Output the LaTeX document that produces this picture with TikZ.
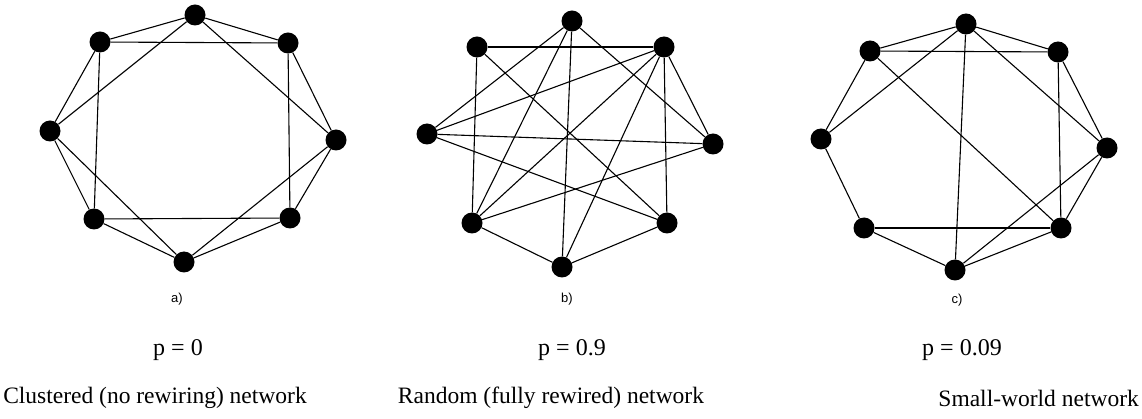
\documentclass[tikz,border=0pt]{standalone}
\usepackage{fontspec}
\setmainfont{Liberation Serif}
\newfontfamily\lblfont{Liberation Sans}
\begin{document}
\begin{tikzpicture}[x=1pt,y=-1pt,
  vtx/.style={circle,fill=black,draw=none,minimum size=21pt,inner sep=0pt},
  edge/.style={draw=black,line width=1.1pt},
  sublbl/.style={font=\lblfont\fontsize{13}{15}\selectfont,inner sep=0pt},
  ptext/.style={font=\fontsize{24}{28}\selectfont,inner sep=0pt},
  captext/.style={font=\fontsize{23.5}{28}\selectfont,inner sep=0pt}]
\fill[white] (0,0) rectangle (1142,419);
\useasboundingbox (0,0) rectangle (1142,419);
% graph a
\node[vtx] (aT)  at (195,15) {};
\node[vtx] (aUL) at (100,42) {};
\node[vtx] (aUR) at (288,43) {};
\node[vtx] (aL)  at (50,131) {};
\node[vtx] (aR)  at (336,140) {};
\node[vtx] (aLL) at (94,219) {};
\node[vtx] (aLR) at (290,218) {};
\node[vtx] (aB)  at (184,262) {};
\foreach \u/\v in {aT/aUL,aT/aUR,aUL/aL,aUR/aR,aL/aLL,aR/aLR,aLL/aB,aLR/aB,
  aUL/aUR,aUL/aLL,aUR/aLR,aLL/aLR,aT/aL,aT/aR,aL/aB,aR/aB}
  \draw[edge] (\u) -- (\v);
% graph b
\node[vtx] (bT)  at (572,21) {};
\node[vtx] (bUL) at (477,47) {};
\node[vtx] (bUR) at (664,47) {};
\node[vtx] (bL)  at (427,134) {};
\node[vtx] (bR)  at (713,144) {};
\node[vtx] (bLL) at (472,223) {};
\node[vtx] (bLR) at (667,223) {};
\node[vtx] (bB)  at (562,267) {};
\foreach \u/\v in {bUL/bUR,bUL/bLL,bUL/bLR,bT/bR,bT/bL,bT/bLL,bT/bB,
  bUR/bL,bUR/bLL,bUR/bB,bUR/bR,bUR/bLR,bL/bR,bL/bLR,bLL/bR,bLL/bB,bLR/bB}
  \draw[edge] (\u) -- (\v);
% graph c
\node[vtx] (cT)  at (966,24) {};
\node[vtx] (cUL) at (870,51) {};
\node[vtx] (cUR) at (1058,52) {};
\node[vtx] (cL)  at (821,139) {};
\node[vtx] (cR)  at (1107,148) {};
\node[vtx] (cLL) at (864,228) {};
\node[vtx] (cLR) at (1061,228) {};
\node[vtx] (cB)  at (955,270) {};
\foreach \u/\v in {cT/cUL,cT/cUR,cUL/cL,cUR/cR,cL/cLL,cR/cLR,cLL/cB,cLR/cB,
  cUL/cUR,cUR/cLR,cLL/cLR,cT/cL,cT/cR,cT/cB,cUL/cLR,cR/cB}
  \draw[edge] (\u) -- (\v);
% labels
\node[sublbl] (la) at (177,299) {a)};
\node[sublbl] (lb) at (567,299) {b)};
\node[sublbl] (lc) at (957,300) {c)};
\node[ptext] (pa) at (178,350) {p = 0};
\node[ptext] (pb) at (572,350) {p = 0.9};
\node[ptext] (pc) at (962,350) {p = 0.09};
\node[captext] (ca) at (155,398) {Clustered (no rewiring) network};
\node[captext] (cb) at (551,398) {Random (fully rewired) network};
\node[captext,anchor=east] (cc) at (1139,398) {Small-world network};
\end{tikzpicture}
\end{document}
